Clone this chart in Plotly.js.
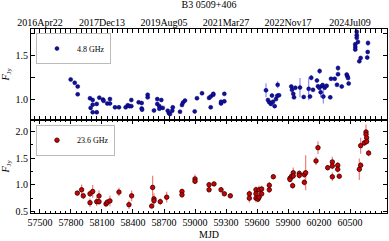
<!DOCTYPE html>
<html><head><meta charset="utf-8">
<script src="https://cdn.plot.ly/plotly-3.0.1.min.js"></script>
<style>html,body{margin:0;padding:0;background:#fff}#plot{width:389px;height:241px}</style>
</head><body><div id="plot"></div>
<script>
// 4.8 GHz
const mjd48 = [57797,57836,57865,57865,57984,57990,58010,58010,58010,58049,58049,58074,58110,58115,58151,58177,58177,58226,58264,58329,58349,58365,58384,58384,58455,58484,58484,58488,58542,58542,58603,58635,58635,58655,58655,58674,58688,58736,58748,58758,58780,58785,58855,58874,58884,58903,58997,59019,
59068,59136,59152,59152,59177,59177,59252,59252,59284,59284,
59687,59706,59719,59735,59745,59755,59771,59784,59796,59800,59813,59932,59939,59951,59958,59971,60016,60052,60100,60113,60125,60142,60180,60190,60203,60206,60216,60229,60235,60242,60255,60274,60309,60316,60352,60374,60384,60384,60420,60468,60475,60481,60487,
60551,60551,60551,60565,60565,60565,60577,60590,60603,60667,60671,60674];
const flux48 = [1.224,1.186,1.144,1.055,1.01,0.90,0.99,0.937,0.85,0.945,0.85,1.017,0.995,0.98,0.95,1.00,0.95,0.906,0.906,0.906,0.93,0.92,0.99,0.92,0.963,0.955,0.894,0.88,1.05,1.02,0.87,1.00,0.945,0.92,0.89,0.99,0.90,0.868,0.84,0.83,0.868,0.906,0.856,0.933,0.96,0.983,0.86,1.01,
1.067,1.014,0.906,1.03,1.05,1.06,0.95,0.97,0.975,1.06,
1.10,0.99,0.963,0.945,1.04,0.97,0.92,1.00,1.037,1.163,1.044,1.144,1.106,1.06,1.02,1.129,1.132,1.025,1.117,1.029,1.244,1.106,1.213,1.147,1.13,1.32,1.078,1.15,1.16,1.029,1.13,1.152,1.02,1.232,1.232,1.163,1.285,1.354,1.144,1.28,1.26,1.24,1.178,
1.626,1.595,1.565,1.768,1.73,1.70,1.653,1.431,1.469,1.474,1.538,1.64];
const err48 = [0.015,0.015,0.015,0.015,0.015,0.015,0.015,0.015,0.015,0.015,0.015,0.015,0.015,0.015,0.015,0.015,0.015,0.015,0.015,0.015,0.015,0.015,0.015,0.015,0.015,0.015,0.015,0.015,0.015,0.015,0.015,0.015,0.015,0.015,0.015,0.015,0.015,0.015,0.015,0.015,0.015,0.015,0.015,0.015,0.015,0.015,0.015,0.015,
0.015,0.015,0.015,0.015,0.015,0.015,0.015,0.015,0.015,0.015,
0.08,0.02,0.02,0.02,0.02,0.02,0.02,0.02,0.03,0.04,0.02,0.02,0.02,0.02,0.02,0.02,0.11,0.02,0.13,0.02,0.03,0.02,0.02,0.02,0.02,0.03,0.06,0.02,0.02,0.08,0.02,0.02,0.02,0.02,0.02,0.02,0.02,0.03,0.02,0.02,0.02,0.02,0.02,
0.02,0.02,0.02,0.04,0.03,0.02,0.02,0.02,0.02,0.02,0.02,0.03];

// 23.6 GHz
const mjd236 = [57861,57903,57919,57984,57984,58010,58049,58071,58071,58139,58151,58177,58264,58361,58387,58581,58590,58603,58603,58664,58726,58874,58874,59000,59000,
59136,59136,59184,59252,59284,59342,59526,59526,59590,59590,59590,59610,59620,59620,59645,59645,59719,59719,59758,
59919,59919,59935,59945,59951,59951,60009,60009,60058,60058,60071,60171,60190,60284,60329,60329,60329,60381,60381,60396,
60590,60603,60603,60638,60655,60655,60661,60661,60680];
const flux236 = [0.843,0.906,0.792,0.664,0.83,0.874,0.683,0.79,0.683,0.64,0.672,0.697,0.862,0.626,0.792,0.60,0.95,0.735,0.70,0.683,0.767,0.874,0.81,1.11,1.065,
1.0,0.906,1.015,0.906,0.83,0.792,0.83,0.748,0.906,0.83,0.748,0.73,0.906,0.767,0.92,0.83,0.906,0.99,1.15,
1.12,1.10,1.16,0.983,1.225,1.165,1.212,1.175,1.19,1.045,1.225,1.447,1.695,1.32,1.427,1.35,1.149,1.365,1.29,1.16,
1.29,1.365,1.733,1.785,1.99,1.945,1.88,1.81,1.594];
const err236 = [0.04,0.1,0.06,0.08,0.06,0.12,0.08,0.1,0.06,0.05,0.06,0.1,0.08,0.08,0.1,0.03,0.22,0.1,0.06,0.06,0.1,0.05,0.05,0.08,0.05,
0.05,0.05,0.04,0.05,0.04,0.04,0.06,0.08,0.06,0.06,0.08,0.06,0.08,0.06,0.06,0.06,0.06,0.06,0.04,
0.06,0.06,0.06,0.06,0.1,0.06,0.06,0.06,0.06,0.06,0.33,0.08,0.12,0.05,0.1,0.06,0.08,0.06,0.06,0.04,
0.2,0.06,0.15,0.06,0.14,0.06,0.06,0.06,0.06];

// top axis date labels
const topTickMJD = [57500,58100,58700,59300,59900,60500];
const topTickText = ['2016Apr22','2017Dec13','2019Aug05','2021Mar27','2022Nov17','2024Jul09'];
const xTicks = [57500,57800,58100,58400,58700,59000,59300,59600,59900,60200,60500];
const xTickText = ['57500','57800','58100','58400','58700','59000','59300','59600','59900','60200','60500'];

const serif = 'Liberation Serif, Times New Roman, serif';
const traces = [
  {x: mjd48, y: flux48, xaxis:'x', yaxis:'y', type:'scatter', mode:'markers', name:'4.8 GHz',
   marker:{color:'#10109a', size:4, line:{color:'#00006a', width:0.5}},
   error_y:{type:'data', array: err48, visible:true, color:'rgba(110,110,255,0.8)', thickness:1.2, width:0},
   legend:'legend'},
  {x: mjd236, y: flux236, xaxis:'x', yaxis:'y2', type:'scatter', mode:'markers', name:'23.6 GHz',
   marker:{color:'#d00000', size:4.5, line:{color:'#300000', width:0.8}},
   error_y:{type:'data', array: err236, visible:true, color:'rgba(240,90,90,0.8)', thickness:1.2, width:0},
   legend:'legend2'},
  {x: topTickMJD, y: [1,1,1,1,1,1], xaxis:'x3', yaxis:'y', type:'scatter', mode:'markers',
   marker:{opacity:0}, showlegend:false, hoverinfo:'skip'}
];
const xrange = [57413, 60858];
const axCommon = {showline:true, linecolor:'#000', linewidth:1, ticks:'inside', ticklen:4, tickcolor:'#000',
  showgrid:false, zeroline:false, tickfont:{family:serif, size:10, color:'#000'}};
const layout = {
  width:389, height:241,
  margin:{l:31, r:2, t:29, b:28},
  paper_bgcolor:'#fff', plot_bgcolor:'#fff',
  font:{family:serif, size:10, color:'#000'},
  title:{text:'B3 0509+406', font:{family:serif, size:10, color:'#000'}, x:0.5, xref:'paper', y:0.995, yref:'container', yanchor:'top'},
  xaxis: Object.assign({}, axCommon, {anchor:'y2', range:xrange, tickvals:xTicks, ticktext:xTickText, mirror:'allticks',
    minor:{ticks:'inside', dtick:50, tick0:57500, ticklen:2, tickcolor:'#000', showgrid:false},
    title:{text:'MJD', font:{family:serif, size:10}, standoff:3}}),
  xaxis3: Object.assign({}, axCommon, {overlaying:'x', anchor:'y', side:'top', range:xrange, tickvals:topTickMJD, ticktext:topTickText,
    showline:false, ticklen:4, minor:{ticks:'inside', dtick:150, tick0:57500, ticklen:2, tickcolor:'#000'}}),
  yaxis: Object.assign({}, axCommon, {domain:[0.507,1], range:[0.765,1.80], tickvals:[1.0,1.5], ticktext:['1.0','1.5'], mirror:'allticks',
    minor:{ticks:'inside', dtick:0.25, tick0:0.5, ticklen:2, tickcolor:'#000'},
    title:{text:'<i>F</i><sub>Jy</sub>', font:{family:serif, size:10}, standoff:4}}),
  yaxis2: Object.assign({}, axCommon, {domain:[0,0.507], range:[0.47,2.22], tickvals:[0.5,1.0,1.5,2.0], ticktext:['0.5','1.0','1.5','2.0'], mirror:'allticks',
    minor:{ticks:'inside', dtick:0.25, tick0:0.5, ticklen:2, tickcolor:'#000'},
    title:{text:'<i>F</i><sub>Jy</sub>', font:{family:serif, size:10}, standoff:4}}),
  legend:{x:0.014, y:0.978, xanchor:'left', yanchor:'top', bgcolor:'#fff', bordercolor:'#bbb', borderwidth:1,
    font:{family:serif, size:8}, itemwidth:30, tracegroupgap:0},
  legend2:{x:0.014, y:0.48, xanchor:'left', yanchor:'top', bgcolor:'#fff', bordercolor:'#bbb', borderwidth:1,
    font:{family:serif, size:8}, itemwidth:30, tracegroupgap:0},
  showlegend:true
};
Plotly.newPlot('plot', traces, layout, {staticPlot:true, displayModeBar:false});
</script></body></html>
